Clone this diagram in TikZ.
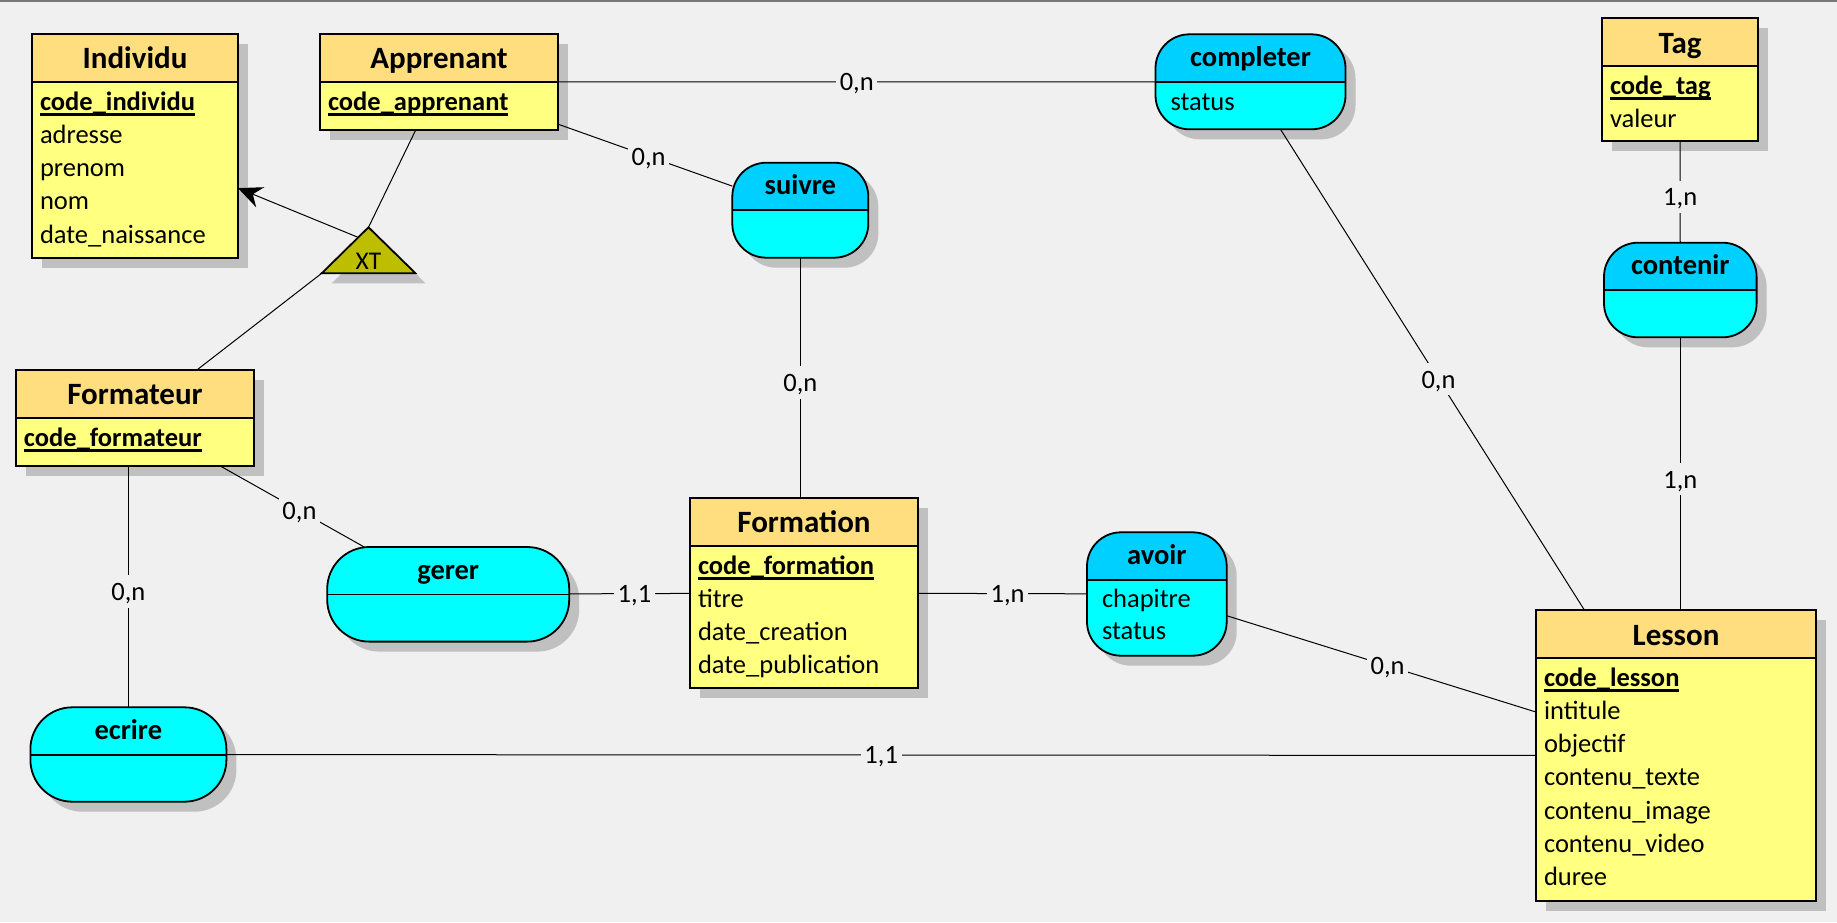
\documentclass[tikz,border=0pt]{standalone}
\usepackage{fontspec}
\setmainfont{Carlito}
\usetikzlibrary{arrows.meta,shadows}

\definecolor{fond}{RGB}{240,240,240}
\definecolor{bordure}{RGB}{120,120,120}
\definecolor{tete}{RGB}{255,222,128}
\definecolor{corps}{RGB}{255,255,128}
\definecolor{assotete}{RGB}{0,208,255}
\definecolor{assocorps}{RGB}{0,255,255}
\definecolor{ombre}{RGB}{192,192,192}
\definecolor{xtfond}{RGB}{190,190,0}

% identifiant souligne
\newcommand{\cle}[1]{\sbox0{\textbf{#1}}\usebox0\llap{\rule[-2.85pt]{\wd0}{1.2pt}}}

\begin{document}
\begin{tikzpicture}[x=0.5pt,y=-0.5pt,
  every node/.style={outer sep=0pt},
  boite/.style={draw,line width=0.9pt,anchor=north west,inner sep=0pt,
    general shadow={fill=ombre,shadow xshift=5pt,shadow yshift=-5pt}},
  entite/.style={boite,fill=corps,
    path picture={\fill[tete] (path picture bounding box.north west) rectangle ([yshift=-24pt]path picture bounding box.north east);
      \draw[line width=0.9pt] ([yshift=-24pt]path picture bounding box.north west) -- ([yshift=-24pt]path picture bounding box.north east);}},
  asso/.style={boite,fill=assocorps,rounded corners=17pt,
    path picture={\fill[#1,sharp corners] (path picture bounding box.north west) rectangle ([yshift=-23.75pt]path picture bounding box.north east);
      \draw[line width=0.9pt,sharp corners] ([yshift=-23.75pt]path picture bounding box.north west) -- ([yshift=-23.75pt]path picture bounding box.north east);}},
  asso/.default=assotete,
  titre/.style={anchor=base,inner sep=0pt,font=\fontsize{15.5pt}{18pt}\selectfont\bfseries},
  titreasso/.style={titre,font=\fontsize{14.25pt}{17pt}\selectfont\bfseries},
  attr/.style={anchor=north west,align=left,inner sep=0pt,font=\fontsize{13.25pt}{16.65pt}\selectfont},
  card/.style={fill=fond,inner xsep=1.8pt,inner ysep=0pt,text height=12.6pt,text depth=3.6pt,pos=.52,font=\fontsize{13.25pt}{16pt}\selectfont},
  lien/.style={line width=0.5pt}
]
\useasboundingbox (0,0) rectangle (1837,922);
\fill[fond] (0,0) rectangle (1837,922);
\draw[bordure,line width=1pt] (0,1) -- (1837,1);

% entites
\node[entite,minimum width=103pt,minimum height=112pt] (individu) at (32,34) {};
\node[entite,minimum width=119pt,minimum height=48pt] (apprenant) at (320,34) {};
\node[entite,minimum width=78pt,minimum height=61.5pt] (tag) at (1602,18) {};
\node[entite,minimum width=119pt,minimum height=48pt] (formateur) at (16,370) {};
\node[entite,minimum width=114pt,minimum height=95pt] (formation) at (690,498) {};
\node[entite,minimum width=140pt,minimum height=145.5pt] (lesson) at (1536,610) {};

% associations
\node[asso,minimum width=95pt,minimum height=47.5pt] (completer) at (1155.5,34.3) {};
\node[asso,minimum width=68pt,minimum height=47.5pt] (suivre) at (732.3,162.7) {};
\node[asso,minimum width=76.3pt,minimum height=47.3pt] (contenir) at (1604,242.7) {};
\node[asso=assocorps,rounded corners=21pt,minimum width=121pt,minimum height=47.3pt] (gerer) at (327.2,547) {};
\node[asso,minimum width=69.85pt,minimum height=61.7pt] (avoir) at (1087,532.3) {};
\node[asso=assocorps,rounded corners=21pt,minimum width=98pt,minimum height=47.2pt] (ecrire) at (30.4,707.3) {};

% textes des entites
\node[titre] (individu-nom) at ([yshift=-17pt]individu.north) {Individu};
\node[attr] (individu-attr) at ([xshift=4pt,yshift=-26.35pt]individu.north west) {\strut\cle{code\_individu}\\adresse\\prenom\\nom\\date\_naissance};
\node[titre] (apprenant-nom) at ([yshift=-17pt]apprenant.north) {Apprenant};
\node[attr] (apprenant-attr) at ([xshift=4pt,yshift=-26.35pt]apprenant.north west) {\strut\cle{code\_apprenant}};
\node[titre] (tag-nom) at ([yshift=-17.5pt]tag.north) {Tag};
\node[attr] (tag-attr) at ([xshift=4pt,yshift=-26.35pt]tag.north west) {\strut\cle{code\_tag}\\valeur};
\node[titre] (formateur-nom) at ([yshift=-17pt]formateur.north) {Formateur};
\node[attr] (formateur-attr) at ([xshift=4pt,yshift=-26.35pt]formateur.north west) {\strut\cle{code\_formateur}};
\node[titre] (formation-nom) at ([yshift=-17pt]formation.north) {Formation};
\node[attr] (formation-attr) at ([xshift=4pt,yshift=-26.35pt]formation.north west) {\strut\cle{code\_formation}\\titre\\date\_creation\\date\_publication};
\node[titre] (lesson-nom) at ([yshift=-17.5pt]lesson.north) {Lesson};
\node[attr] (lesson-attr) at ([xshift=4pt,yshift=-26.35pt]lesson.north west) {\strut\cle{code\_lesson}\\intitule\\objectif\\contenu\_texte\\contenu\_image\\contenu\_video\\duree};

% textes des associations
\node[titreasso] (completer-nom) at ([yshift=-16pt]completer.north) {completer};
\node[attr] (completer-attr) at ([xshift=7.5pt,yshift=-26.35pt]completer.north west) {\strut status};
\node[titreasso] (suivre-nom) at ([yshift=-16pt]suivre.north) {suivre};
\node[titreasso] (contenir-nom) at ([yshift=-16pt]contenir.north) {contenir};
\node[titreasso] (gerer-nom) at ([yshift=-16pt]gerer.north) {gerer};
\node[titreasso] (avoir-nom) at ([yshift=-16pt]avoir.north) {avoir};
\node[attr,font=\fontsize{13.25pt}{15.8pt}\selectfont] (avoir-attr) at ([xshift=7.5pt,yshift=-26.64pt]avoir.north west) {\strut chapitre\\status};
\node[titreasso] (ecrire-nom) at ([yshift=-16pt]ecrire.north) {ecrire};

% liens
\draw[lien] (apprenant) -- node[card,pos=.5] (card-ac) {0,n} (completer);
\draw[lien] (apprenant) -- node[card] (card-as) {0,n} (suivre);
\draw[lien] (suivre) -- node[card] (card-sf) {0,n} (suivre |- formation.north);
\draw[lien] (completer) -- node[card] (card-cl) {0,n} (lesson);
\draw[lien] (tag) -- node[card,pos=.55] (card-tc) {1,n} (contenir);
\draw[lien] (contenir) -- node[card] (card-cn) {1,n} (contenir |- lesson.north);
\draw[lien] (formateur) -- node[card,pos=.55] (card-fg) {0,n} (gerer);
\draw[lien] (ecrire |- formateur.south) -- node[card] (card-fe) {0,n} (ecrire);
\draw[lien] (gerer) -- node[card,pos=.54] (card-gf) {1,1} (formation);
\draw[lien] (formation) -- node[card,pos=.53] (card-fa) {1,n} (avoir);
\draw[lien] (avoir) -- node[card] (card-al) {0,n} (lesson);
\draw[lien] (ecrire) -- node[card,pos=.5] (card-el) {1,1} (lesson);

% heritage XT
\coordinate (xt-g) at (321.7,273.3);
\coordinate (xt-s) at (368.5,227.3);
\coordinate (xt-d) at (415.5,273.3);
\coordinate (xt-f) at (358,237.3);
\draw[lien] (apprenant) -- (xt-s);
\draw[lien] (formateur) -- (xt-g);
\draw[lien,-{Stealth[length=12pt,width=10.8pt,inset=4pt]}] (xt-f) -- (individu);
\draw[line width=0.9pt,fill=xtfond,general shadow={fill=ombre,shadow xshift=5pt,shadow yshift=-5pt}] (xt-g) -- (xt-s) -- (xt-d) -- cycle;
\node[anchor=base,inner sep=0pt,font=\fontsize{12.75pt}{15pt}\selectfont] (xt) at (368.5,269) {XT};
\end{tikzpicture}
\end{document}
